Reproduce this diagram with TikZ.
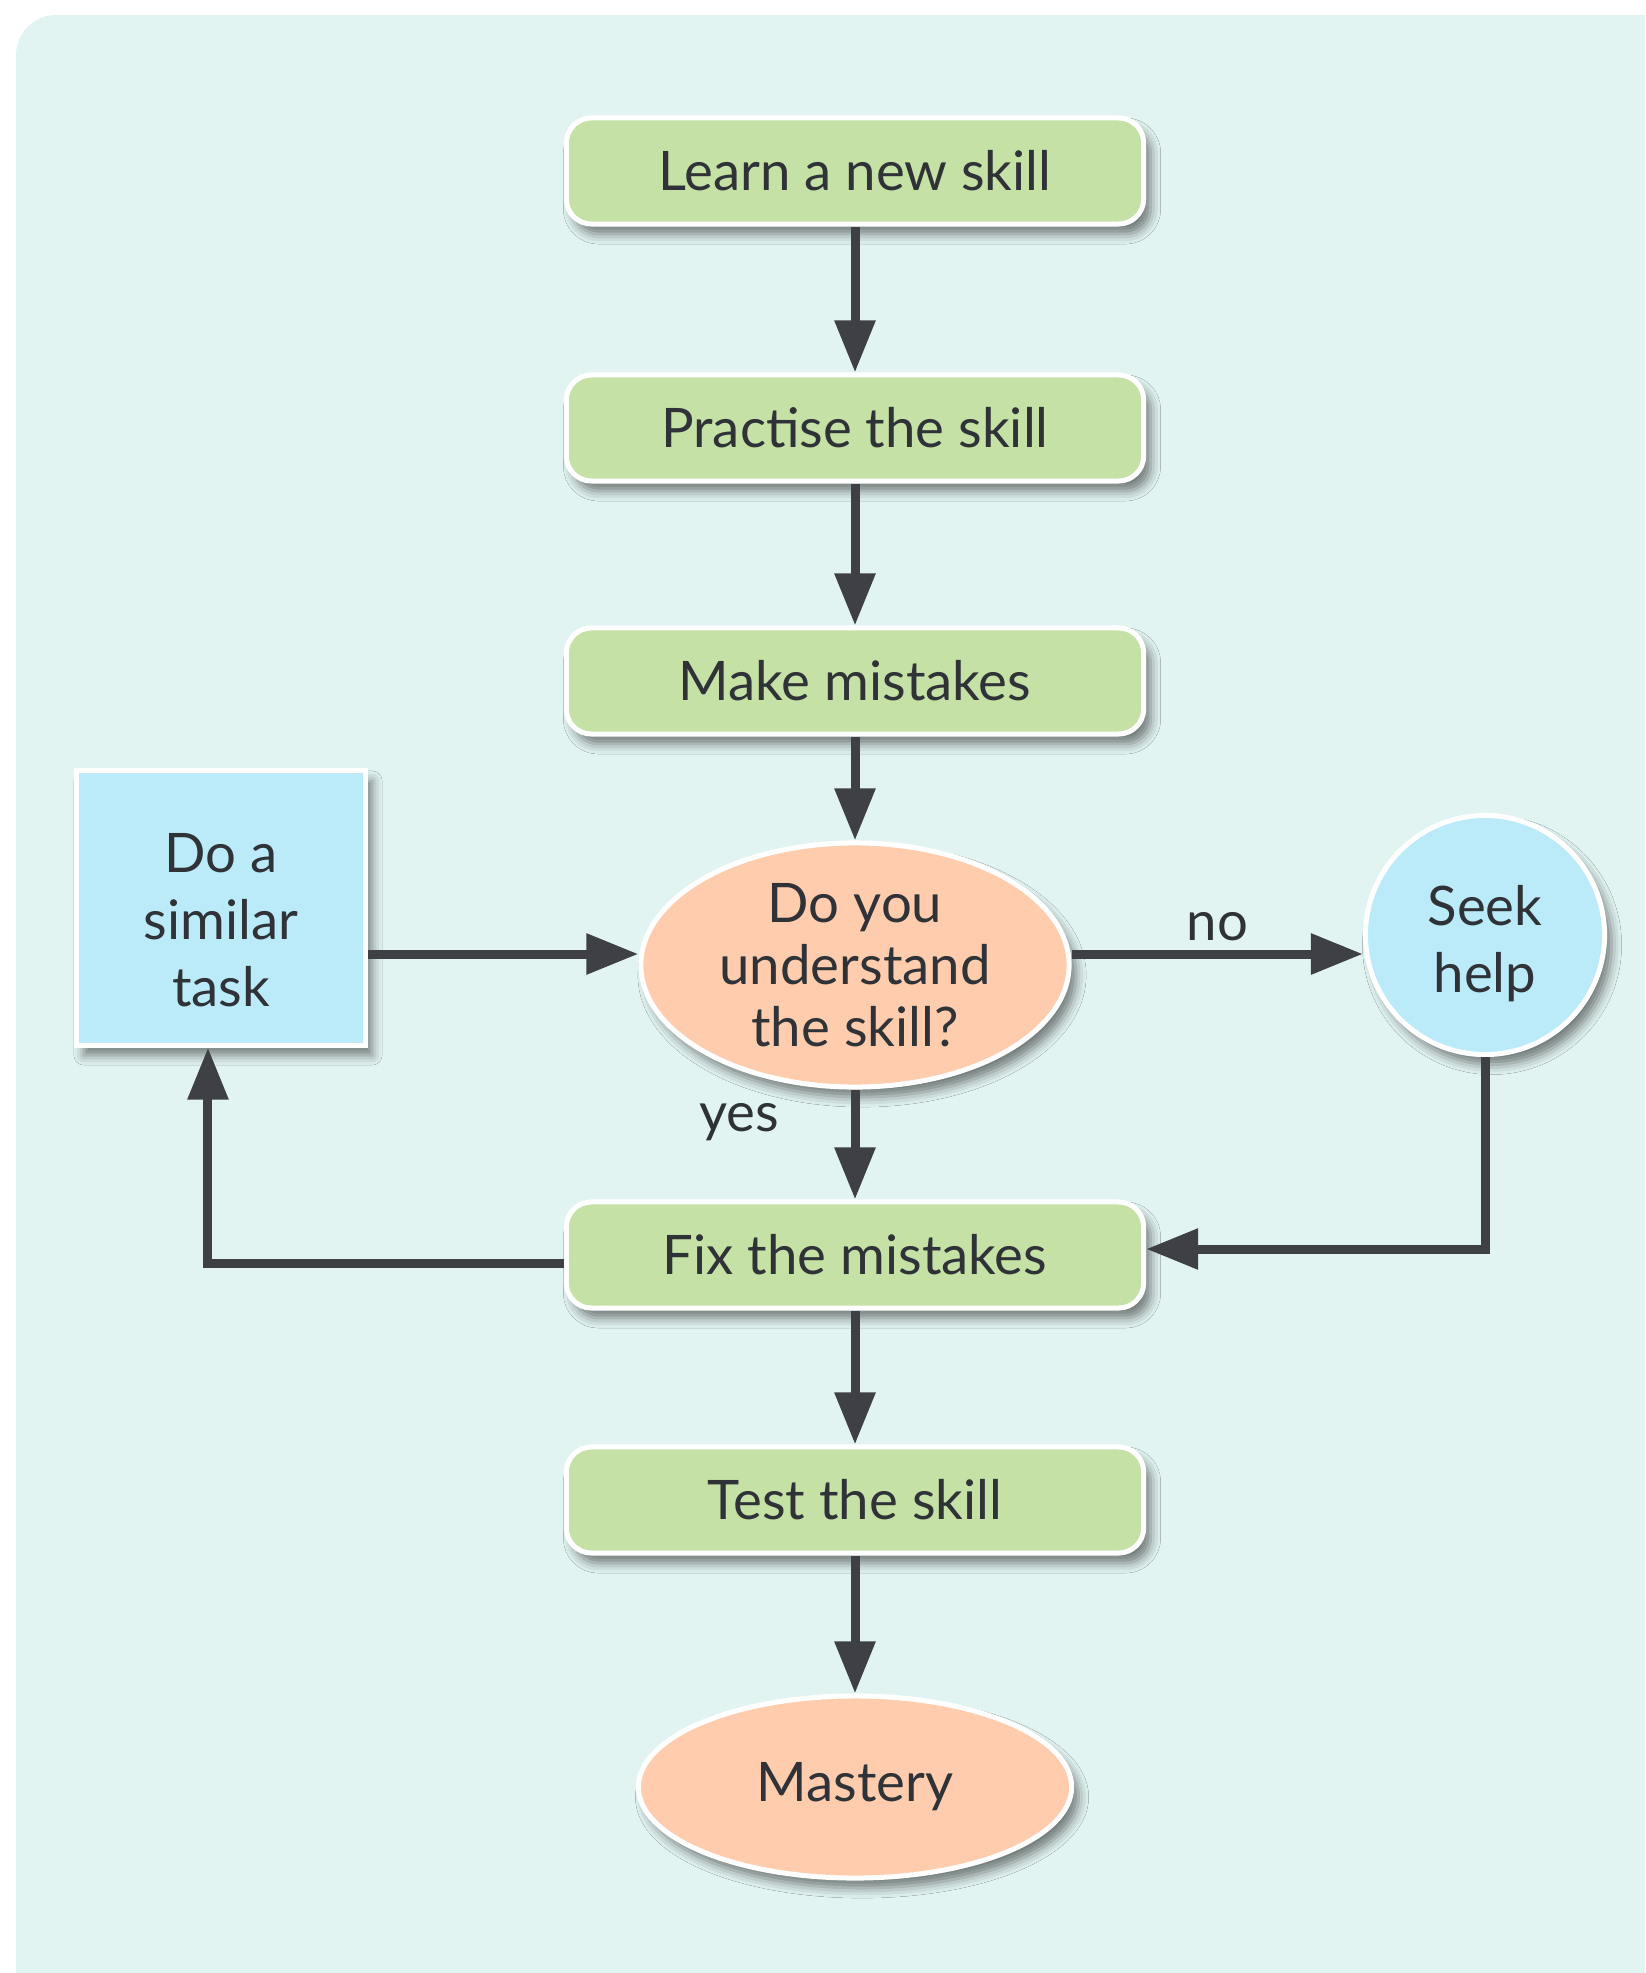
\documentclass[tikz,border=0pt]{standalone}
\usepackage{fontspec}
\setmainfont{Lato}
\usetikzlibrary{positioning,arrows.meta,shapes.geometric,shadows.blur}
\definecolor{bgMint}{HTML}{E2F4F2}
\definecolor{stepGreen}{HTML}{C5E1A5}
\definecolor{askPeach}{HTML}{FFCCAD}
\definecolor{sideBlue}{HTML}{BBEBF9}
\definecolor{inkGray}{HTML}{3E4046}
\definecolor{textDark}{HTML}{2F3237}

\begin{document}
\begin{tikzpicture}[x=0.01cm, y=-0.01cm,
    font=\fontsize{15.5}{19}\selectfont, text=textDark,
    softshadow/.style={blur shadow={shadow xshift=0.07cm, shadow yshift=-0.1cm,
        shadow blur radius=0.1cm, shadow opacity=50}},
    stepbox/.style={draw=white, line width=0.05cm, fill=stepGreen,
        rounded corners=0.25cm, minimum width=5.77cm, minimum height=1.06cm, softshadow},
    askoval/.style={ellipse, draw=white, line width=0.05cm, fill=askPeach,
        inner sep=0pt, align=center, softshadow},
    sidebox/.style={draw=white, line width=0.05cm, fill=sideBlue,
        align=center, softshadow},
    flow/.style={-{Triangle[length=0.52cm, width=0.39cm]}, draw=inkGray, line width=0.09cm}]
        \useasboundingbox (0,0) rectangle (1645,1973);
        \clip (0,0) rectangle (1645,1973);
        \fill[bgMint, rounded corners=0.4cm] (16,15) rectangle (1700,2030);
        % main column
        \node[stepbox] (learn) at (855,171) {Learn a new skill};
        \node[stepbox] (practise) at (855,428) {Practise the skill};
        \node[stepbox] (mistakes) at (855,681) {Make mistakes};
        \node[askoval, minimum width=4.28cm, minimum height=2.44cm,
            font=\fontsize{15.5}{17.6}\selectfont] (understand) at (855,965)
            {Do you\\understand\\the skill?};
        \node[stepbox] (fix) at (855,1255) {Fix the mistakes};
        \node[stepbox] (test) at (855,1500) {Test the skill};
        \node[askoval, minimum width=4.33cm, minimum height=1.82cm] (mastery) at (855,1787) {Mastery};
        % side nodes
        \node[sidebox, minimum width=2.88cm, minimum height=2.74cm] (similar) at (221,908)
            {\rule{0pt}{0.64cm}Do a\\similar\\task};
        \node[sidebox, circle, minimum size=2.39cm, inner sep=0pt] (seek) at (1485,935)
            {\rule{0pt}{0.58cm}Seek\\help};
        \coordinate (midrow) at (0,954);
        % connectors
        \draw[flow] (learn) -- (practise);
        \draw[flow] (practise) -- (mistakes);
        \draw[flow] (mistakes) -- (understand);
        \draw[flow] (understand) -- node[pos=0.3, left=0.6cm] {yes} (fix);
        \draw[flow] (fix) -- (test);
        \draw[flow] (test) -- (mastery);
        \draw[flow] (understand.east |- midrow) -- node[midway, above=-0.03cm] {no} (seek.west |- midrow);
        \draw[flow] (similar.east |- midrow) -- (understand.west |- midrow);
        \draw[flow] (seek.south) |- ([yshift=0.06cm]fix.east);
        \draw[flow] ([yshift=-0.08cm]fix.west) -| ([xshift=-0.13cm]similar.south);
      \end{tikzpicture}
\end{document}
